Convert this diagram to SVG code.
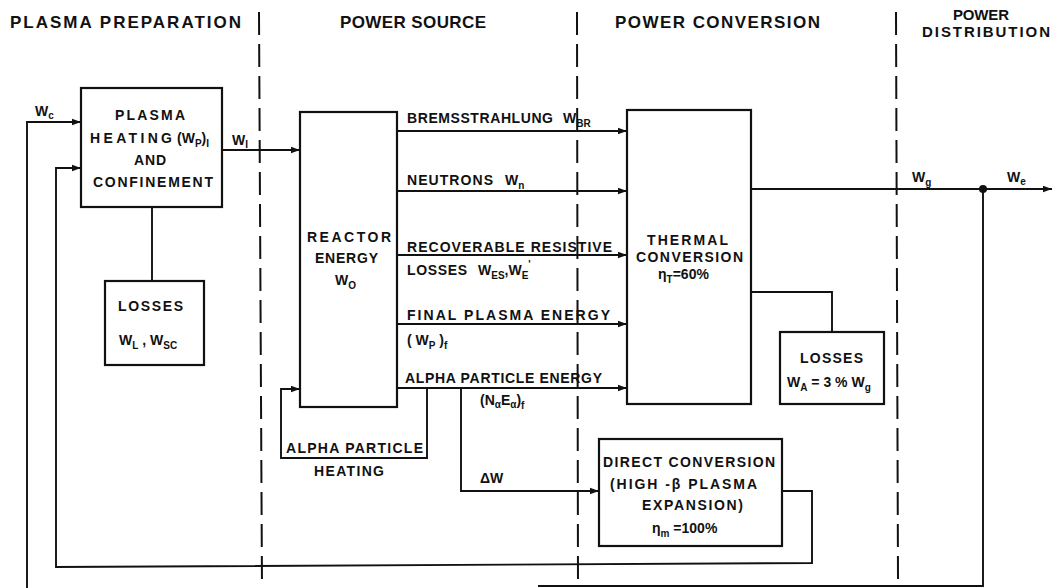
<svg xmlns="http://www.w3.org/2000/svg" width="1056" height="588" viewBox="0 0 1056 588">
<style>
.t{font-family:"Liberation Sans",Arial,sans-serif;font-weight:bold;font-size:14px;fill:#111}
.h{font-size:17px}
.h2{font-size:15px}
.s{font-size:10px}
.box{fill:#fff;stroke:#111;stroke-width:2.2}
.ln{fill:none;stroke:#111;stroke-width:1.9}
.dash{fill:none;stroke:#111;stroke-width:2;stroke-dasharray:23 9}
</style>
<defs>
<marker id="ah" markerUnits="userSpaceOnUse" markerWidth="10" markerHeight="8" refX="9" refY="4" orient="auto">
<path d="M0,0.8 L9,4 L0,7.2 z" fill="#111"/>
</marker>
</defs>
<rect x="0" y="0" width="1056" height="588" fill="#fff"/>

<g id="section-dividers">
<line class="dash" x1="259" y1="12" x2="262" y2="588"/>
<line class="dash" x1="577" y1="12" x2="578" y2="588"/>
<line class="dash" x1="896" y1="12" x2="898" y2="580"/>
</g>

<g id="headers">
<text class="t h" x="10" y="28" textLength="231" lengthAdjust="spacing">PLASMA PREPARATION</text>
<text class="t h" x="340" y="28" textLength="146" lengthAdjust="spacing">POWER SOURCE</text>
<text class="t h" x="615" y="28" textLength="205" lengthAdjust="spacing">POWER CONVERSION</text>
<text class="t h2" x="953" y="20" textLength="56" lengthAdjust="spacing">POWER</text>
<text class="t h2" x="922" y="37" textLength="128" lengthAdjust="spacing">DISTRIBUTION</text>
</g>

<g id="connectors">
<path class="ln" d="M27,588 V122 H81" marker-end="url(#ah)"/>
<path class="ln" d="M782,491 H812 V563 L56,567 V168 H81" marker-end="url(#ah)"/>
<path class="ln" d="M222,150 H300" marker-end="url(#ah)"/>
<path class="ln" d="M152,207 V281"/>
<path class="ln" d="M397,131 H627" marker-end="url(#ah)"/>
<path class="ln" d="M397,191 H627" marker-end="url(#ah)"/>
<path class="ln" d="M397,255 H627" marker-end="url(#ah)"/>
<path class="ln" d="M397,324 H627" marker-end="url(#ah)"/>
<path class="ln" d="M397,388 H627" marker-end="url(#ah)"/>
<path class="ln" d="M427,388 V458 H281 V389 H300" marker-end="url(#ah)"/>
<path class="ln" d="M461,388 V491 H599" marker-end="url(#ah)"/>
<path class="ln" d="M751,189 H1052" marker-end="url(#ah)"/>
<circle cx="983" cy="189" r="4" fill="#111"/>
<path class="ln" d="M983,189 V586 H538"/>
<path class="ln" d="M751,292 H832 V332"/>
<text class="t" x="35" y="116">W<tspan class="s" dy="3">c</tspan></text>
<text class="t" x="232" y="145">W<tspan class="s" dy="3">I</tspan></text>
<text class="t" x="407" y="123" textLength="146" lengthAdjust="spacing">BREMSSTRAHLUNG</text>
<text class="t" x="563" y="123">W<tspan class="s" dy="4">BR</tspan></text>
<text class="t" x="407" y="185" textLength="86" lengthAdjust="spacing">NEUTRONS</text>
<text class="t" x="505" y="185">W<tspan class="s" dy="4">n</tspan></text>
<text class="t" x="407" y="252" textLength="205" lengthAdjust="spacing">RECOVERABLE RESISTIVE</text>
<text class="t" x="407" y="275" textLength="60" lengthAdjust="spacing">LOSSES</text>
<text class="t" x="478" y="275">W<tspan class="s" dy="4">ES</tspan><tspan dy="-4">,W</tspan><tspan class="s" dy="4">E</tspan><tspan class="s" dy="-11">'</tspan></text>
<text class="t" x="407" y="320" textLength="203" lengthAdjust="spacing">FINAL PLASMA ENERGY</text>
<text class="t" x="407" y="345">( W<tspan class="s" dy="4">P</tspan><tspan dy="-4"> )</tspan><tspan class="s" dy="4">f</tspan></text>
<text class="t" x="405" y="383" textLength="197" lengthAdjust="spacing">ALPHA PARTICLE ENERGY</text>
<text class="t" x="480" y="405">(N<tspan class="s" dy="3">α</tspan><tspan dy="-3">E</tspan><tspan class="s" dy="3">α</tspan><tspan dy="-3">)</tspan><tspan class="s" dy="4">f</tspan></text>
<text class="t" x="286" y="453" textLength="137" lengthAdjust="spacing">ALPHA PARTICLE</text>
<text class="t" x="314" y="476" textLength="70" lengthAdjust="spacing">HEATING</text>
<text class="t" x="480" y="483">ΔW</text>
<text class="t" x="912" y="182">W<tspan class="s" dy="4">g</tspan></text>
<text class="t" x="1007" y="182">W<tspan class="s" dy="3">e</tspan></text>
</g>

<g id="plasma-heating">
<rect class="box" x="81" y="88" width="141" height="119"/>
<text class="t" x="115" y="120" textLength="70" lengthAdjust="spacing">PLASMA</text>
<text class="t" x="90" y="143" textLength="82" lengthAdjust="spacing">HEATING</text>
<text class="t" x="177" y="143">(W<tspan class="s" dy="4">P</tspan><tspan dy="-4">)</tspan><tspan class="s" dy="4">I</tspan></text>
<text class="t" x="134" y="165" textLength="32" lengthAdjust="spacing">AND</text>
<text class="t" x="93" y="187" textLength="120" lengthAdjust="spacing">CONFINEMENT</text>
</g>

<g id="losses-plasma">
<rect class="box" x="105" y="281" width="99" height="84"/>
<text class="t" x="118" y="311" textLength="65" lengthAdjust="spacing">LOSSES</text>
<text class="t" x="119" y="345">W<tspan class="s" dy="4">L</tspan><tspan dy="-4"> , W</tspan><tspan class="s" dy="4">SC</tspan></text>
</g>

<g id="reactor">
<rect class="box" x="300" y="112" width="97" height="295"/>
<text class="t" x="307" y="242" textLength="84" lengthAdjust="spacing">REACTOR</text>
<text class="t" x="315" y="263" textLength="63" lengthAdjust="spacing">ENERGY</text>
<text class="t" x="335" y="285">W<tspan class="s" dy="4">O</tspan></text>
</g>

<g id="thermal-conversion">
<rect class="box" x="627" y="110" width="124" height="294"/>
<text class="t" x="647" y="245" textLength="81" lengthAdjust="spacing">THERMAL</text>
<text class="t" x="636" y="262" textLength="107" lengthAdjust="spacing">CONVERSION</text>
<text class="t" x="658" y="279">η<tspan class="s" dy="4">T</tspan><tspan dy="-4">=60%</tspan></text>
</g>

<g id="losses-thermal">
<rect class="box" x="780" y="332" width="104" height="72"/>
<text class="t" x="800" y="363" textLength="63" lengthAdjust="spacing">LOSSES</text>
<text class="t" x="787" y="387">W<tspan class="s" dy="4">A</tspan><tspan dy="-4"> = 3 % W</tspan><tspan class="s" dy="4">g</tspan></text>
</g>

<g id="direct-conversion">
<rect class="box" x="599" y="439" width="183" height="107"/>
<text class="t" x="603" y="467" textLength="172" lengthAdjust="spacing">DIRECT CONVERSION</text>
<text class="t" x="610" y="489" textLength="147" lengthAdjust="spacing">(HIGH -β PLASMA</text>
<text class="t" x="642" y="510" textLength="101" lengthAdjust="spacing">EXPANSION)</text>
<text class="t" x="652" y="533">η<tspan class="s" dy="4">m</tspan><tspan dy="-4"> =100%</tspan></text>
</g>
</svg>
